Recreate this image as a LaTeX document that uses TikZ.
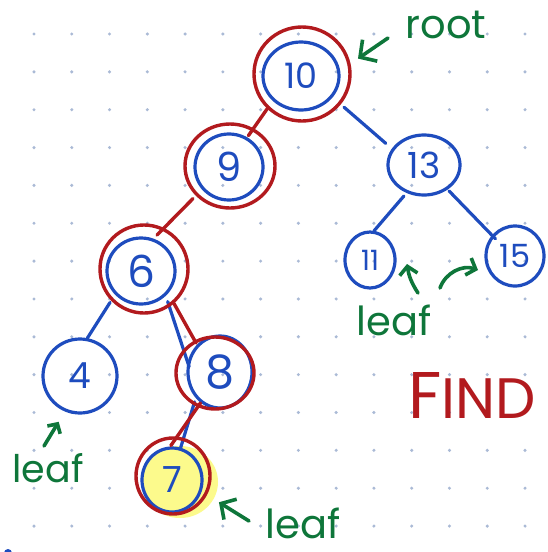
\documentclass[tikz,border=0pt]{standalone}
\usepackage{fontspec}
\setmainfont{Poppins}
\usetikzlibrary{shapes.geometric,arrows.meta}
\definecolor{inkblue}{RGB}{30,76,190}
\definecolor{inkred}{RGB}{178,26,30}
\definecolor{inkgreen}{RGB}{14,118,58}
\definecolor{hilite}{RGB}{252,250,140}
\definecolor{gridot}{RGB}{170,186,214}
\newcommand{\fsz}[1]{\fontsize{#1}{#1}\selectfont}
\begin{document}
\begin{tikzpicture}[x=1pt,y=-1pt,
  key/.style={ellipse, draw=inkblue, line width=3.2pt, inner sep=0pt, text=inkblue},
  ring/.style={ellipse, draw=inkred, line width=3.4pt, inner sep=0pt},
  blueline/.style={draw=inkblue, line width=3.2pt, line cap=round},
  redline/.style={draw=inkred, line width=3.4pt, line cap=round},
  note/.style={text=inkgreen, inner sep=0pt},
  pointer/.style={draw=inkgreen, line width=3.6pt, line cap=round, line join=round,
    -{Straight Barb[length=8pt,width=18pt]}},
]
\useasboundingbox (0,0) rectangle (547,552);
\fill[white] (0,0) rectangle (547,552);
\clip (0,0) rectangle (547,552);

% dotted paper
\foreach \i in {0,...,13}
  \foreach \j in {0,...,13}
    \fill[gridot] ({34+37.77*\i},{34+37.85*\j}) circle[radius=1.7pt];

% highlighter under the found key
\fill[hilite] (180,482) ellipse [x radius=38pt, y radius=36pt];

% keys
\node[key, minimum width=76pt, minimum height=68pt, font=\fsz{35}] (n10) at (301,76) {10};
\node[key, minimum width=68pt, minimum height=66pt, font=\fsz{40}] (n9) at (229,167) {9};
\node[key, minimum width=72pt, minimum height=60pt, font=\fsz{36}] (n13) at (424,165) {13};
\node[key, minimum width=50pt, minimum height=56pt, font=\fsz{28}] (n11) at (370,260) {11};
\node[key, minimum width=58pt, minimum height=60pt, font=\fsz{32}] (n15) at (515,256) {15};
\node[key, minimum width=68pt, minimum height=66pt, font=\fsz{44}] (n6) at (141,271) {6};
\node[key, minimum width=74pt, minimum height=74pt, font=\fsz{36}] (n4) at (80,376) {4};
\node[key, minimum width=64pt, minimum height=72pt, font=\fsz{46}] (n8) at (220,372) {8};
\node[key, minimum width=60pt, minimum height=64pt, font=\fsz{36}] (n7) at (172,480) {7};

% blue links
\draw[blueline, shorten <=15pt, shorten >=8pt] (n10.-34) -- (n13.153);
\draw[blueline, shorten <=4pt] (n13.238) -- (n11.82);
\draw[blueline, shorten <=2pt, shorten >=-5pt] (n13.-46) -- (n15.138);
\draw[blueline, shorten <=6pt, shorten >=-5pt] (n6.-45) -- (n8.163);
\draw[blueline, shorten <=4pt] (n8.227) -- (n7.75);

% search path in red
\node[ring, minimum width=96pt, minimum height=94pt] (r10) at (302,74) {};
\node[ring, minimum width=90pt, minimum height=84pt] (r9) at (230,166) {};
\node[ring, minimum width=88pt, minimum height=88pt] (r6) at (144,269) {};
\node[ring, minimum width=78pt, minimum height=72pt] (r8) at (215,373) {};
\node[ring, minimum width=74pt, minimum height=76pt] (r7) at (173,476) {};

\draw[blueline, shorten <=2pt] (r6.224) -- (n4.79);
\draw[redline, shorten >=-9pt] (r10.225) -- (r9.58);
\draw[redline, shorten <=4pt, shorten >=-10pt] (r9.221) -- (r6.64);
\draw[redline, shorten >=-3pt] (r6.-49) -- (r8.122);
\draw[redline, shorten <=-5pt, shorten >=-11pt] (r8.243) -- (r7.84);

% notes
\node[note, font=\fsz{40}] (root) at (446,25) {root};
\node[note, font=\fsz{40}] (leafR) at (394,320) {leaf};
\node[note, font=\fsz{38}] (leafL) at (48,468) {leaf};
\node[note, font=\fsz{40}] (leafB) at (303,523) {leaf};

\coordinate (up11) at (407,264);
\coordinate (to15) at (478,270);

\draw[pointer, -{Straight Barb[length=12pt,width=26pt]}, shorten >=9pt]
  ([shift={(-58,13)}]root.center) -- (r10.12);
\draw[pointer] ([shift={(24,-27)}]leafR.center) to[bend left=12] (up11);
\draw[pointer] ([shift={(46,-32)}]leafR.center) to[bend left=45] (to15);
\draw[pointer, -{Straight Barb[length=7pt,width=15pt]}, shorten >=12pt]
  ([shift={(-4,-22)}]leafL.center) -- (n4.247);
\draw[pointer, -{Straight Barb[length=11pt,width=24pt]}, shorten >=14pt]
  ([shift={(-54,-2)}]leafB.center) -- (r7.-29);

% heading
\node[text=inkred, anchor=base west, inner sep=0pt] (find) at (408,418)
  {\fsz{66}F\fsz{57}IND};

% stray pen mark
\fill[inkblue] (8,553) circle[radius=4pt];
\end{tikzpicture}
\end{document}
